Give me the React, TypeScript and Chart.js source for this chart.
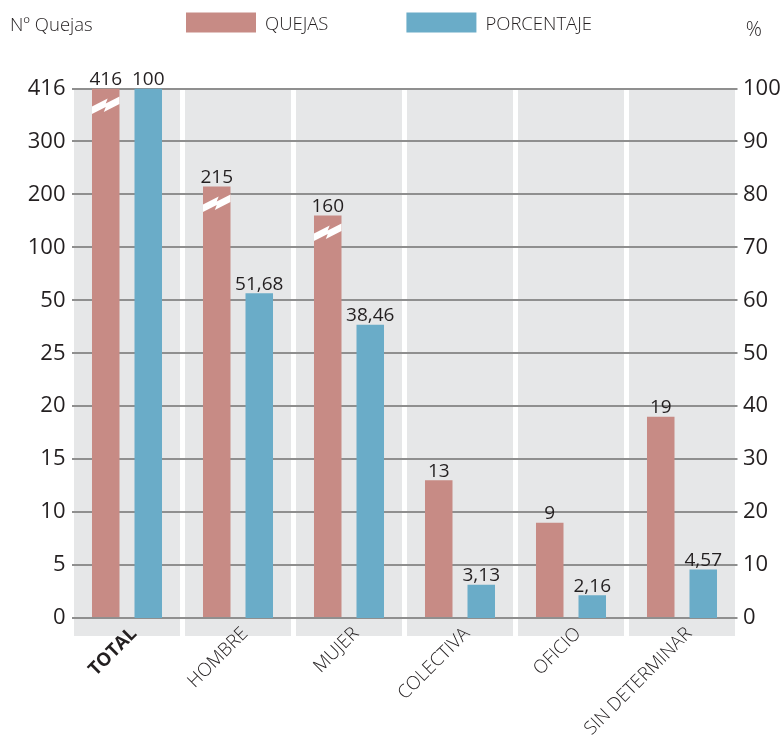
import { useEffect, useRef } from 'react';
import { Chart, registerables } from 'chart.js';

Chart.register(...registerables);

const CATEGORIES = ['TOTAL', 'HOMBRE', 'MUJER', 'COLECTIVA', 'OFICIO', 'SIN DETERMINAR'];
const QUEJAS = [416, 215, 160, 13, 9, 19];
const PORCENTAJE = [100, 51.68, 38.46, 3.13, 2.16, 4.57];
// Left axis is broken: each labelled value sits one equal step above the previous.
const QUEJAS_TICKS = [0, 5, 10, 15, 20, 25, 50, 100, 200, 300, 416];
const PORCENTAJE_TICKS = [0, 10, 20, 30, 40, 50, 60, 70, 80, 90, 100];
// Bars whose length is cut by the axis break.
const CUT_BARS = ['TOTAL', 'HOMBRE', 'MUJER'];

const ROSE = '#C78B85';
const BLUE = '#6AACC8';
const PANEL = '#E6E7E8';
const GRID = '#8F8F8F';
const INK = '#231F20';
const FONT = "'Open Sans', 'DejaVu Sans', sans-serif";
const NUM_WEIGHT = '400';
const TEXT_WEIGHT = '300';

// Both axes share a 0–100 grid; every broken-axis tick is one 10-unit step.
const STEP = 100 / (QUEJAS_TICKS.length - 1);

function piecewise(v: number, stops: number[], pos: number[]): number {
  for (let i = 1; i < stops.length; i++) {
    if (v <= stops[i]) {
      const t = (v - stops[i - 1]) / (stops[i] - stops[i - 1]);
      return pos[i - 1] + t * (pos[i] - pos[i - 1]);
    }
  }
  return pos[pos.length - 1];
}

const quejasToGrid = (v: number) =>
  piecewise(v, QUEJAS_TICKS, QUEJAS_TICKS.map((_, i) => i * STEP));

// Percentages follow the same compressed bands up to 50; 50–100 fills the rest of the height.
const pctToGrid = (v: number) =>
  v <= 50 ? quejasToGrid(v) : piecewise(v, [50, 100], [quejasToGrid(50), 100]);

const fmt = (v: number) => String(v).replace('.', ',');

const panelsPlugin = {
  id: 'panels',
  beforeDraw(chart: any) {
    const { ctx, chartArea } = chart;
    const n = CATEGORIES.length;
    const w = (chartArea.right - chartArea.left) / n;
    ctx.save();
    ctx.fillStyle = PANEL;
    for (let i = 0; i < n; i++) {
      ctx.fillRect(chartArea.left + i * w + 2.5, chartArea.top, w - 5, chartArea.bottom - chartArea.top + 18);
    }
    ctx.restore();
  },
};

const breakPlugin = {
  id: 'breakMarks',
  afterDatasetsDraw(chart: any) {
    const { ctx } = chart;
    const meta = chart.getDatasetMeta(0);
    ctx.save();
    ctx.fillStyle = '#FFFFFF';
    CATEGORIES.forEach((cat, i) => {
      if (!CUT_BARS.includes(cat)) return;
      const bar = meta.data[i];
      const { x, y, width } = bar.getProps(['x', 'y', 'width'], true);
      const x0 = x - width / 2;
      const w = width;
      const yc = y + 22;
      // zig-zag cut: two slanted strips offset by a small step
      ctx.beginPath();
      ctx.moveTo(x0, yc - 4);
      ctx.lineTo(x0 + 0.57 * w, yc - 12);
      ctx.lineTo(x0 + 0.5 * w, yc - 7);
      ctx.lineTo(x0 + w, yc - 14);
      ctx.lineTo(x0 + w, yc - 6.5);
      ctx.lineTo(x0 + 0.43 * w, yc + 1.5);
      ctx.lineTo(x0 + 0.5 * w, yc - 3.5);
      ctx.lineTo(x0, yc + 3.5);
      ctx.closePath();
      ctx.fill();
    });
    ctx.restore();
  },
};

const valueLabelsPlugin = {
  id: 'valueLabels',
  afterDatasetsDraw(chart: any) {
    const { ctx } = chart;
    const sources = [QUEJAS, PORCENTAJE];
    ctx.save();
    ctx.fillStyle = INK;
    ctx.font = `${NUM_WEIGHT} 19px ${FONT}`;
    ctx.textAlign = 'center';
    ctx.textBaseline = 'alphabetic';
    sources.forEach((values, d) => {
      const meta = chart.getDatasetMeta(d);
      meta.data.forEach((bar: any, i: number) => {
        const { x, y } = bar.getProps(['x', 'y'], true);
        ctx.fillText(fmt(values[i]), x, y - 3.5);
      });
    });
    ctx.restore();
  },
};

const headerPlugin = {
  id: 'header',
  afterDraw(chart: any) {
    const { ctx, width } = chart;
    ctx.save();
    ctx.fillStyle = INK;
    ctx.textBaseline = 'alphabetic';
    ctx.font = `${TEXT_WEIGHT} 18.5px ${FONT}`;
    ctx.textAlign = 'left';
    ctx.fillText('Nº Quejas', 10, 31);
    ctx.font = `${TEXT_WEIGHT} 20px ${FONT}`;
    ctx.textAlign = 'right';
    ctx.fillText('%', width - 20, 36);

    // legend
    ctx.font = `${TEXT_WEIGHT} 18.5px ${FONT}`;
    ctx.textAlign = 'left';
    const items = [
      { label: 'QUEJAS', color: ROSE },
      { label: 'PORCENTAJE', color: BLUE },
    ];
    let x = 186;
    items.forEach((it) => {
      ctx.fillStyle = it.color;
      ctx.fillRect(x, 12.5, 70, 20);
      ctx.fillStyle = INK;
      ctx.fillText(it.label, x + 79, 30);
      x += 79 + ctx.measureText(it.label).width + 78;
    });
    ctx.restore();
  },
};

export default function App() {
  const ref = useRef<HTMLCanvasElement>(null);

  useEffect(() => {
    const chart = new Chart(ref.current as HTMLCanvasElement, {
      type: 'bar',
      data: {
        labels: CATEGORIES,
        datasets: [
          {
            label: 'QUEJAS',
            data: QUEJAS.map(quejasToGrid),
            backgroundColor: ROSE,
            yAxisID: 'y',
            categoryPercentage: 0.766,
            barPercentage: 0.647,
          },
          {
            label: 'PORCENTAJE',
            data: PORCENTAJE.map(pctToGrid),
            backgroundColor: BLUE,
            yAxisID: 'y1',
            categoryPercentage: 0.766,
            barPercentage: 0.647,
          },
        ],
      },
      options: {
        responsive: false,
        animation: false,
        layout: { padding: { top: 88.5, left: 0, right: 0, bottom: 0 } },
        plugins: {
          legend: { display: false },
          tooltip: { enabled: false },
        },
        scales: {
          x: {
            grid: { display: false },
            border: { display: false },
            afterFit: (s: any) => { s.height = 124; },
            ticks: {
              color: INK,
              maxRotation: 45,
              minRotation: 45,
              autoSkip: false,
              padding: -3,
              labelOffset: 7,
              font: (ctx: any) => ({
                family: FONT,
                size: 18.5,
                weight: ctx.index === 0 ? 'bold' : TEXT_WEIGHT,
              }),
            },
          },
          y: {
            position: 'left',
            min: 0,
            max: 100,
            afterFit: (s: any) => { s.width = 71.5; },
            grid: { color: GRID, lineWidth: 2, drawTicks: false },
            border: { display: false },
            ticks: {
              stepSize: STEP,
              color: INK,
              padding: 6,
              font: { family: FONT, size: 22, weight: NUM_WEIGHT },
              callback: (_v: any, i: number) => String(QUEJAS_TICKS[i]),
            },
          },
          y1: {
            position: 'right',
            min: 0,
            max: 100,
            afterFit: (s: any) => { s.width = 44.5; },
            grid: { display: false, drawTicks: false },
            border: { display: false },
            ticks: {
              stepSize: 10,
              color: INK,
              padding: 5.5,
              font: { family: FONT, size: 22, weight: NUM_WEIGHT },
              callback: (_v: any, i: number) => String(PORCENTAJE_TICKS[i]),
            },
          },
        },
      },
      plugins: [panelsPlugin, breakPlugin, valueLabelsPlugin, headerPlugin],
    } as any);
    return () => chart.destroy();
  }, []);

  return (
    <div style={{ position: 'absolute', left: 0, top: 0, width: 782, height: 742, background: '#fff' }}>
      <canvas ref={ref} width={782} height={742} style={{ display: 'block', width: 782, height: 742 }} />
    </div>
  );
}
